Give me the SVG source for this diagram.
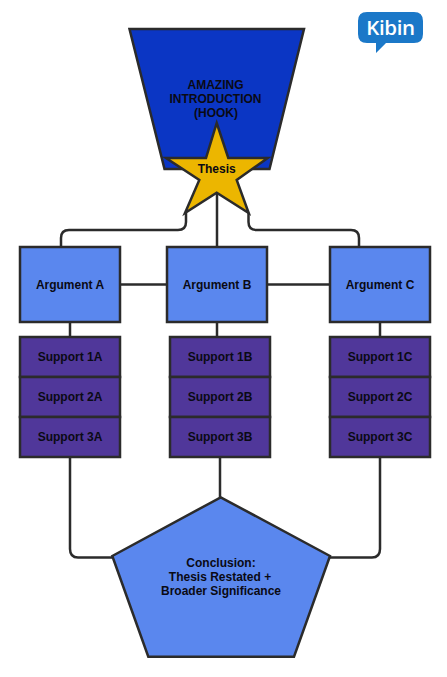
<svg xmlns="http://www.w3.org/2000/svg" width="447" height="677" viewBox="0 0 447 677">
<style>
text{font-family:"Liberation Sans",Arial,sans-serif;font-size:12px;font-weight:bold;fill:#0a0a14;text-anchor:middle}
.s{stroke:#2b2b2b;stroke-width:2.500;stroke-linejoin:miter}
.arg{fill:#5a87ee}
.sup{fill:#50379a}
#connectors path{fill:none;stroke:#2b2b2b;stroke-width:2.500}
</style>
<rect width="447" height="677" fill="#fff"/>
<g id="connectors">
<path d="M217 192V247"/>
<path d="M186 213V222Q186 230 178 230H69Q61 230 61 238V247"/>
<path d="M248.500 213V222Q248.500 230 256.500 230H351Q359 230 359 238V247"/>
<path d="M120 284.500H167"/>
<path d="M267 284.500H330"/>
<path d="M70 322V337"/>
<path d="M217 322V337"/>
<path d="M380 322V337"/>
<path d="M70 457V549Q70 557.500 78 557.500H115"/>
<path d="M220 457V498"/>
<path d="M380 457V549Q380 557.500 372 557.500H328"/>
</g>
<g id="intro">
<polygon class="s" points="129.500,29 304,29 269.500,169 164.500,169" fill="#0b36c4"/>
<text x="215.500" y="89">AMAZING</text>
<text x="215.500" y="103">INTRODUCTION</text>
<text x="216" y="117">(HOOK)</text>
</g>
<g id="thesis">
<polygon class="s" points="216.700,123 228.300,158 267.700,158 236.700,180 248.700,213 216.700,192.700 185,213 199.300,180 166,158 206,158" fill="#ecb600"/>
<text x="216.700" y="173">Thesis</text>
</g>
<g id="argA"><rect class="s arg" x="20" y="247" width="100" height="75"/><text x="70" y="289">Argument A</text></g>
<g id="argB"><rect class="s arg" x="167" y="247" width="100" height="75"/><text x="217" y="289">Argument B</text></g>
<g id="argC"><rect class="s arg" x="330" y="247" width="100" height="75"/><text x="380" y="289">Argument C</text></g>
<g id="sup1A"><rect class="s sup" x="20" y="337" width="100" height="40"/><text x="70" y="361">Support 1A</text></g>
<g id="sup2A"><rect class="s sup" x="20" y="377" width="100" height="40"/><text x="70" y="401">Support 2A</text></g>
<g id="sup3A"><rect class="s sup" x="20" y="417" width="100" height="40"/><text x="70" y="441">Support 3A</text></g>
<g id="sup1B"><rect class="s sup" x="170" y="337" width="100" height="40"/><text x="220" y="361">Support 1B</text></g>
<g id="sup2B"><rect class="s sup" x="170" y="377" width="100" height="40"/><text x="220" y="401">Support 2B</text></g>
<g id="sup3B"><rect class="s sup" x="170" y="417" width="100" height="40"/><text x="220" y="441">Support 3B</text></g>
<g id="sup1C"><rect class="s sup" x="330" y="337" width="100" height="40"/><text x="380" y="361">Support 1C</text></g>
<g id="sup2C"><rect class="s sup" x="330" y="377" width="100" height="40"/><text x="380" y="401">Support 2C</text></g>
<g id="sup3C"><rect class="s sup" x="330" y="417" width="100" height="40"/><text x="380" y="441">Support 3C</text></g>
<g id="conclusion">
<polygon class="s" points="220.700,497.300 330,556 294,656.700 148.300,656.700 112.300,556" fill="#5a87ee"/>
<text x="221" y="567">Conclusion:</text>
<text x="220" y="581">Thesis Restated +</text>
<text x="221" y="595">Broader Significance</text>
</g>
<g id="logo">
<path d="M367 12H414Q423 12 423 21V34Q423 43 414 43H386L376 53V43H367Q358 43 358 34V21Q358 12 367 12Z" fill="#1b78c8"/>
<text x="390.500" y="35" style="font-family:'Open Sans',sans-serif;font-size:20.500px;font-weight:600;fill:#fff;letter-spacing:-.4px">Kibin</text>
</g>
</svg>
